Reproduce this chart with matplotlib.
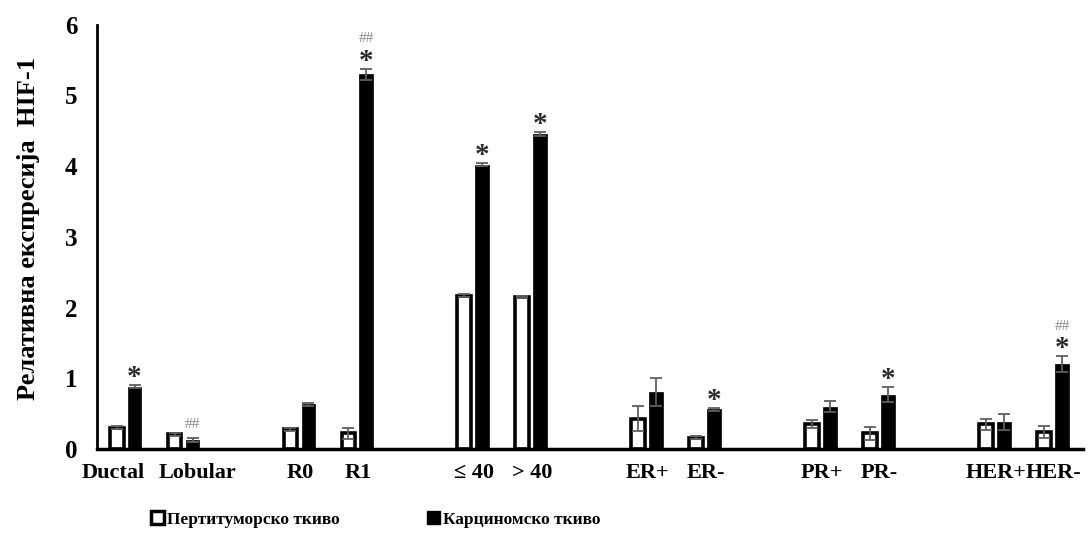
import numpy as np
import matplotlib.pyplot as plt
from matplotlib.patches import Patch

plt.rcParams['font.family'] = ['Liberation Serif', 'DejaVu Serif']
plt.rcParams['font.weight'] = 'bold'

# Категорије (празни слотови између парова)
kategorije = ['Ductal', 'Lobular', 'R0', 'R1', '≤ 40', '> 40',
              'ER+', 'ER-', 'PR+', 'PR-', 'HER+', 'HER-']
slotovi = [0, 1, 3, 4, 6, 7, 9, 10, 12, 13, 15, 16]
# Excel је померио натписе Ductal/Lobular да се не преклапају
pomak_natpisa = [-0.22, 0.24, 0, 0, 0, 0, 0, 0, 0, 0, 0, 0]

# Перитуморско ткиво
peritumorsko = [0.30, 0.21, 0.28, 0.22, 2.17, 2.15, 0.43, 0.16, 0.35, 0.22, 0.35, 0.24]
peritumorsko_sd = [0.02, 0.02, 0.02, 0.08, 0.02, 0.02, 0.18, 0.02, 0.06, 0.09, 0.08, 0.09]

# Карциномско ткиво
karcinomsko = [0.88, 0.13, 0.63, 5.30, 4.02, 4.46, 0.81, 0.56, 0.60, 0.77, 0.38, 1.20]
karcinomsko_sd = [0.02, 0.03, 0.02, 0.08, 0.02, 0.03, 0.20, 0.02, 0.08, 0.10, 0.11, 0.11]

zvezdica = [1, 0, 0, 1, 1, 1, 0, 1, 0, 1, 0, 1]
tarabe = [0, 1, 0, 1, 0, 0, 0, 0, 0, 0, 0, 1]

x = np.array(slotovi, dtype=float)
w = 0.24
siva = '#5f5f5f'

fig, ax = plt.subplots(figsize=(10.88, 5.39), dpi=100)
fig.subplots_adjust(left=0.089, right=0.995, bottom=0.167, top=0.954)

ax.bar(x - 0.16, peritumorsko, w, color='white', edgecolor='black', linewidth=2.6,
       yerr=peritumorsko_sd, ecolor=siva, capsize=4.5, error_kw={'elinewidth': 1.3, 'capthick': 1.3},
       zorder=2)
ax.bar(x + 0.15, karcinomsko, w, color='black', edgecolor='black', linewidth=0.5,
       yerr=karcinomsko_sd, ecolor=siva, capsize=4.5, error_kw={'elinewidth': 1.3, 'capthick': 1.3},
       zorder=2)

# ознаке значајности
for i in range(len(kategorije)):
    vrh = karcinomsko[i] + karcinomsko_sd[i]
    if zvezdica[i]:
        ax.annotate('*', (x[i] + 0.15, vrh), xytext=(0, 0), textcoords='offset points',
                    ha='center', va='baseline', fontsize=21, color='#2b2b2b')
    if tarabe[i]:
        dy = 19 if zvezdica[i] else 7
        ax.annotate('##', (x[i] + 0.15, vrh), xytext=(0, dy), textcoords='offset points',
                    ha='center', va='baseline', fontsize=11, color='#888888', fontweight='normal')

ax.set_xlim(-0.5, 16.5)
ax.set_ylim(0, 6)
ax.set_yticks(range(7))
ax.set_xticks(x + np.array(pomak_natpisa))
ax.set_xticklabels(kategorije, fontsize=16, fontweight='bold')
ax.tick_params(axis='both', length=0)
ax.tick_params(axis='y', labelsize=18, pad=14)
ax.tick_params(axis='x', pad=10)
for lbl in ax.get_yticklabels():
    lbl.set_fontweight('bold')

ax.set_ylabel('Релативна експресија  HIF-1', fontsize=19, fontweight='bold')
ax.yaxis.set_label_coords(-0.058, 0.52)

ax.spines['top'].set_visible(False)
ax.spines['right'].set_visible(False)
ax.spines['left'].set_linewidth(2)
ax.spines['bottom'].set_linewidth(2.5)

ruke = [Patch(facecolor='white', edgecolor='black', linewidth=2.5),
        Patch(facecolor='black', edgecolor='black')]
fig.legend(ruke, ['Пертитуморско ткиво', 'Карциномско ткиво'], loc='center left',
           bbox_to_anchor=(0.124, 0.036), ncol=2, frameon=False,
           prop={'size': 12.5, 'weight': 'bold'}, handlelength=0.75, handleheight=0.75,
           handletextpad=0.2, columnspacing=5.0)

fig.savefig('out.png', dpi=100)
